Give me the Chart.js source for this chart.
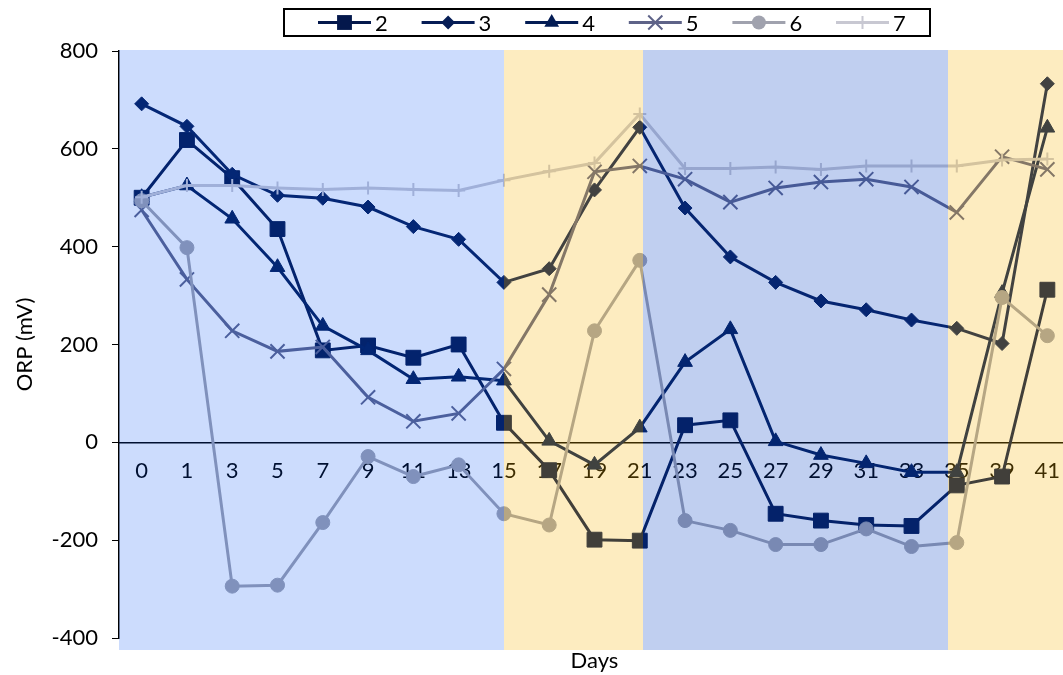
<!DOCTYPE html>
<html>
<head>
<meta charset="utf-8">
<title>ORP (mV) by day</title>
<script src="https://cdn.jsdelivr.net/npm/chart.js@4.4.1/dist/chart.umd.min.js"></script>
<style>
  html, body { margin: 0; padding: 0; background: #ffffff; overflow: hidden; width: 1063px; height: 675px; }
  #wrap { position: relative; width: 1070px; height: 675px; }
  canvas { display: block; }
</style>
</head>
<body>
<div id="wrap"><canvas id="orp" width="1070" height="675"></canvas></div>
<script>
// Sampling days (category axis)
const days = ['0', '1', '3', '5', '7', '9', '11', '13', '15', '17', '19', '21', '23', '25', '27', '29', '31', '33', '35', '39', '41'];

// ORP readings (mV) for each column
const orp2 = [500, 618, 540, 436, 188, 198, 173, 200, 40, -57, -199, -201, 35, 45, -146, -160, -169, -171, -88, -70, 312];
const orp3 = [692, 646, 548, 505, 499, 481, 441, 415, 327, 355, 516, 644, 479, 379, 327, 289, 271, 250, 233, 202, 733];
const orp4 = [501, 525, 457, 358, 238, 188, 129, 134, 126, 3, -46, 30, 164, 231, 2, -26, -43, -61, -61, 305, 643];
const orp5 = [475, 333, 228, 186, 195, 92, 43, 59, 150, 302, 553, 565, 538, 491, 520, 532, 538, 522, 470, 584, 558];
const orp6 = [494, 398, -294, -292, -164, -29, -70, -46, -146, -169, 228, 372, -160, -180, -209, -209, -177, -213, -205, 296, 218];
const orp7 = [501, 525, 525, 520, 517, 520, 517, 515, 536, 554, 571, 671, 560, 560, 563, 558, 565, 565, 565, 577, 579];

// Y axis ticks
const yMin = -400;
const yMax = 800;
const yStep = 200;

const FONT = 'Lato, "Open Sans", "DejaVu Sans", sans-serif';

// Translucent phase shading laid over the plot (category index positions)
const phaseBands = [
  { from: -0.5,  to: 8,     color: 'rgba(0, 80, 245, 0.20)' },
  { from: 8,     to: 11.07, color: 'rgba(248, 180, 4, 0.25)' },
  { from: 11.07, to: 17.8,  color: 'rgba(4, 64, 196, 0.25)' },
  { from: 17.8,  to: 20.8,  color: 'rgba(248, 180, 4, 0.25)' }
];

function series(label, data, color, style, radius, borderW, order) {
  return {
    label: label,
    data: data,
    borderColor: color,
    backgroundColor: color,
    borderWidth: 3,
    pointStyle: style,
    pointRadius: radius,
    pointHoverRadius: radius,
    pointBackgroundColor: color,
    pointBorderColor: color,
    pointBorderWidth: borderW,
    tension: 0,
    order: order
  };
}

const datasets = [
  series('2', orp2, '#04184c', 'rect',     10.5, 1, 6),
  series('3', orp3, '#061d56', 'rectRot',  7,    1, 5),
  series('4', orp4, '#031c54', 'triangle', 8.5,  1, 4),
  series('5', orp5, '#5e6388', 'crossRot', 10,   2, 3),
  series('6', orp6, '#a0a2ae', 'circle',   7,    1, 2),
  series('7', orp7, '#c8c8d2', 'cross',    6.5,  2, 1)
];

function drawMarker(ctx, style, r, x, y) {
  ctx.beginPath();
  if (style === 'rect') {
    const s = r * Math.SQRT1_2;
    ctx.rect(x - s, y - s, 2 * s, 2 * s);
    ctx.fill();
  } else if (style === 'rectRot') {
    ctx.moveTo(x, y - r); ctx.lineTo(x + r, y); ctx.lineTo(x, y + r); ctx.lineTo(x - r, y); ctx.closePath();
    ctx.fill();
  } else if (style === 'triangle') {
    ctx.moveTo(x, y - r);
    ctx.lineTo(x + r * Math.sin(Math.PI / 3), y + r / 2);
    ctx.lineTo(x - r * Math.sin(Math.PI / 3), y + r / 2);
    ctx.closePath();
    ctx.fill();
  } else if (style === 'circle') {
    ctx.arc(x, y, r, 0, Math.PI * 2);
    ctx.fill();
  } else if (style === 'crossRot') {
    const d = r * Math.SQRT1_2;
    ctx.moveTo(x - d, y - d); ctx.lineTo(x + d, y + d);
    ctx.moveTo(x - d, y + d); ctx.lineTo(x + d, y - d);
    ctx.stroke();
  } else if (style === 'cross') {
    ctx.moveTo(x, y - r); ctx.lineTo(x, y + r);
    ctx.moveTo(x - r, y); ctx.lineTo(x + r, y);
    ctx.stroke();
  }
}

const phasePlugin = {
  id: 'phaseBands',
  afterDatasetsDraw(chart) {
    const { ctx, chartArea, scales } = chart;
    const x = scales.x;
    const top = chartArea.top - 1;
    const bottom = chartArea.bottom + 12;
    ctx.save();
    phaseBands.forEach(b => {
      const l = Math.round(x.getPixelForValue(b.from));
      const r = Math.round(x.getPixelForValue(b.to));
      ctx.fillStyle = b.color;
      ctx.fillRect(l, top, r - l, bottom - top);
    });
    ctx.restore();
  }
};

const legendPlugin = {
  id: 'boxLegend',
  afterDraw(chart) {
    const ctx = chart.ctx;
    ctx.save();
    ctx.lineWidth = 2;
    ctx.strokeStyle = '#000000';
    ctx.strokeRect(284, 9, 646, 27);
    const y = 22.5;
    chart.data.datasets.forEach((ds, i) => {
      const x0 = 318 + 103.6 * i;
      ctx.strokeStyle = ds.borderColor;
      ctx.lineWidth = 3;
      ctx.beginPath();
      ctx.moveTo(x0, y);
      ctx.lineTo(x0 + 53, y);
      ctx.stroke();
      ctx.fillStyle = ds.pointBackgroundColor;
      ctx.strokeStyle = ds.pointBorderColor;
      ctx.lineWidth = ds.pointBorderWidth;
      drawMarker(ctx, ds.pointStyle, ds.pointRadius, x0 + 26.5, y);
      ctx.fillStyle = '#000000';
      ctx.font = '22px ' + FONT;
      ctx.textAlign = 'left';
      ctx.textBaseline = 'middle';
      ctx.fillText(ds.label, x0 + 57, y + 1);
    });
    const ca = chart.chartArea;
    ctx.font = '22px ' + FONT;
    ctx.textAlign = 'center';
    ctx.textBaseline = 'middle';
    ctx.fillStyle = '#000000';
    ctx.fillText('Days', (ca.left + ca.right) / 2, 661);
    ctx.restore();
  }
};

new Chart(document.getElementById('orp'), {
  type: 'line',
  data: { labels: days, datasets: datasets },
  plugins: [phasePlugin, legendPlugin],
  options: {
    responsive: false,
    animation: false,
    devicePixelRatio: 1,
    layout: { autoPadding: false, padding: { top: 51, right: 0, bottom: 37, left: 0 } },
    plugins: {
      legend: { display: false },
      tooltip: { enabled: false }
    },
    scales: {
      x: {
        type: 'category',
        position: { y: 0 },
        offset: true,
        grid: { display: true, drawOnChartArea: false, drawTicks: false, color: 'rgba(0,0,0,0)' },
        border: { display: true, color: '#000000', width: 1.5 },
        ticks: {
          color: '#000000',
          // tall line box places the labels just under the zero line
          font: { family: FONT, size: 22, lineHeight: 2.6 },
          padding: 0,
          maxRotation: 0,
          autoSkip: false
        }
      },
      y: {
        min: yMin,
        max: yMax,
        afterFit(scale) { scale.width = 119; },
        grid: { display: true, drawOnChartArea: false, drawTicks: true, tickLength: 7, color: '#000000', lineWidth: 1 },
        border: { display: true, color: '#000000', width: 1.5 },
        ticks: {
          stepSize: yStep,
          color: '#000000',
          font: { family: FONT, size: 22 },
          padding: 14
        },
        title: {
          display: true,
          text: 'ORP (mV)',
          color: '#000000',
          font: { family: FONT, size: 22 },
          padding: { top: 12, bottom: 0 }
        }
      }
    }
  }
});
</script>
</body>
</html>
